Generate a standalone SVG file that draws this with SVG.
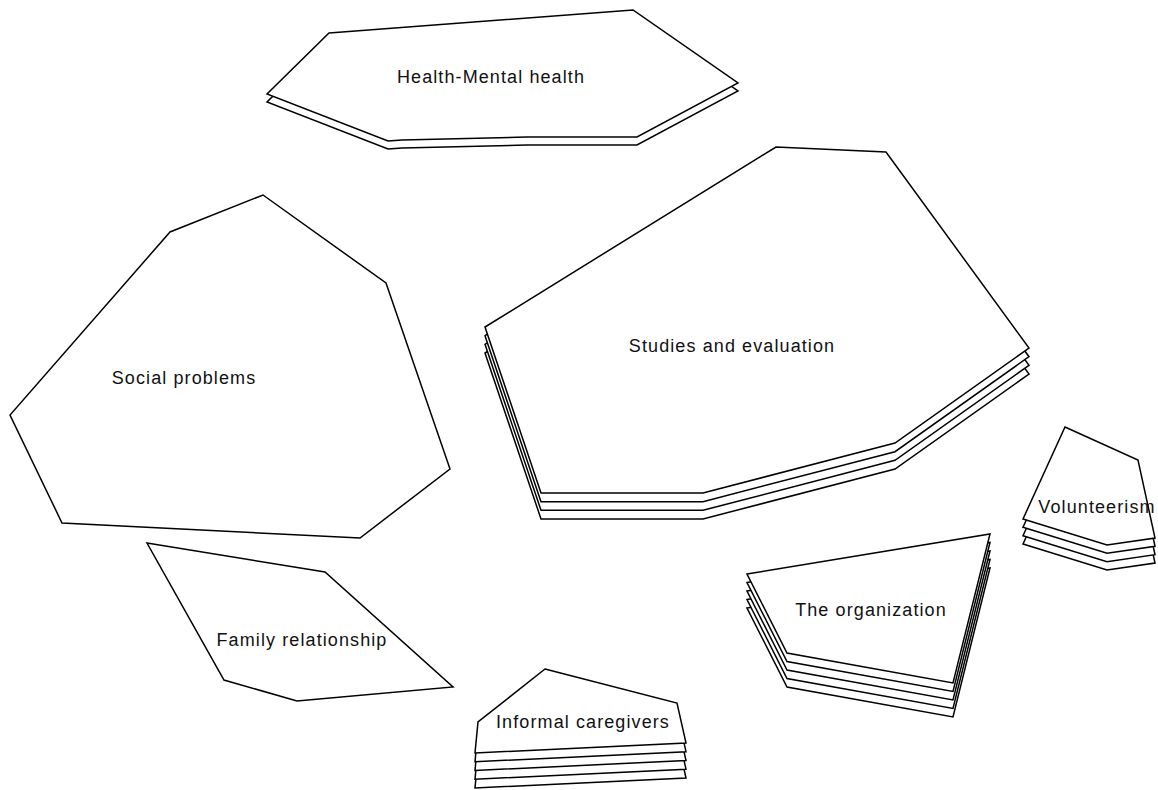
<svg xmlns="http://www.w3.org/2000/svg" xmlns:xlink="http://www.w3.org/1999/xlink" width="1158" height="790" viewBox="0 0 1158 790">
<style>
.s{fill:#fff;stroke:#000;stroke-width:1.5;stroke-linejoin:miter}
.t{font-family:"Liberation Sans",Arial,sans-serif;font-size:18px;letter-spacing:1.1px;fill:#111;text-anchor:middle}
</style>
<defs>
<polygon id="pHealth" points="329,33 633,10 738,83 637,137 527,137 402,140 388,141 267,94"/>
<polygon id="pStudies" points="485,327 776,147 886,152 1029,348 895,443 703,493 541,493"/>
<polygon id="pVol" points="1065,427 1138,460 1155,538 1107,545 1023,519"/>
<polygon id="pOrg" points="747,574 990,534 953,683 787,653"/>
<polygon id="pInf" points="545,669 677,703 686,743 475,753 478,722"/>
</defs>
<rect width="1158" height="790" fill="#fff"/>
<g id="connectors"/>
<g id="health">
<use xlink:href="#pHealth" class="s" transform="translate(0,8)"/>
<use xlink:href="#pHealth" class="s"/>
<text class="t" x="491" y="83">Health-Mental health</text>
</g>
<g id="studies">
<use xlink:href="#pStudies" class="s" transform="translate(0,26)"/>
<use xlink:href="#pStudies" class="s" transform="translate(0,17.3)"/>
<use xlink:href="#pStudies" class="s" transform="translate(0,8.7)"/>
<use xlink:href="#pStudies" class="s"/>
<text class="t" x="732" y="352">Studies and evaluation</text>
</g>
<g id="social">
<polygon class="s" points="263,195 386,283 450,469 360,538 62,523 10,415 170,232"/>
<text class="t" x="184" y="384">Social problems</text>
</g>
<g id="family">
<polygon class="s" points="147,543 325,572 453,687 297,701 224,680"/>
<text class="t" x="302" y="646">Family relationship</text>
</g>
<g id="volunteerism">
<use xlink:href="#pVol" class="s" transform="translate(0,25)"/>
<use xlink:href="#pVol" class="s" transform="translate(0,16.7)"/>
<use xlink:href="#pVol" class="s" transform="translate(0,8.3)"/>
<use xlink:href="#pVol" class="s"/>
<text class="t" x="1097" y="513">Volunteerism</text>
</g>
<g id="organization">
<use xlink:href="#pOrg" class="s" transform="translate(0,34)"/>
<use xlink:href="#pOrg" class="s" transform="translate(0,25.5)"/>
<use xlink:href="#pOrg" class="s" transform="translate(0,17)"/>
<use xlink:href="#pOrg" class="s" transform="translate(0,8.5)"/>
<use xlink:href="#pOrg" class="s"/>
<text class="t" x="871" y="616">The organization</text>
</g>
<g id="informal">
<use xlink:href="#pInf" class="s" transform="translate(0,35)"/>
<use xlink:href="#pInf" class="s" transform="translate(0,26.2)"/>
<use xlink:href="#pInf" class="s" transform="translate(0,17.5)"/>
<use xlink:href="#pInf" class="s" transform="translate(0,8.7)"/>
<use xlink:href="#pInf" class="s"/>
<text class="t" x="583" y="728">Informal caregivers</text>
</g>
</svg>
